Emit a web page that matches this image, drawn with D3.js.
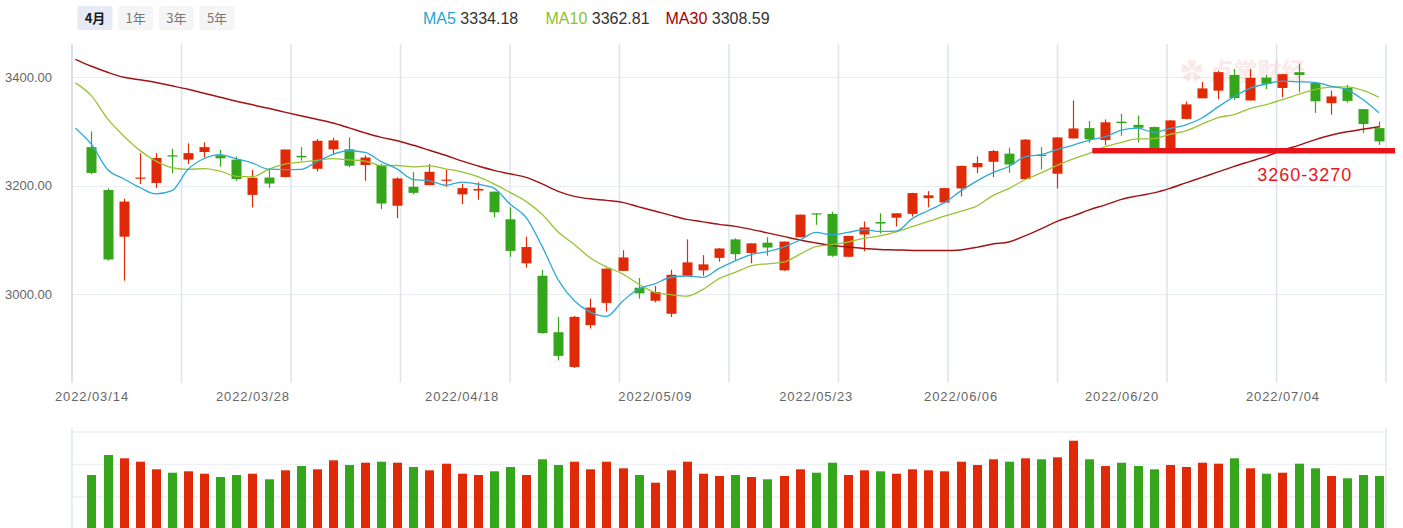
<!DOCTYPE html>
<html><head><meta charset="utf-8">
<script src="https://cdn.jsdelivr.net/npm/d3@7"></script>
<style>
html,body{margin:0;padding:0;background:#fff;}
svg{display:block;font-family:"Liberation Sans",Arial,"Noto Sans CJK SC",sans-serif;}
</style></head>
<body><svg id="c" width="1403" height="528"></svg>
<script>
// ---------- DATA ----------
const prevDate = '2022/03/11';
const dates = ['2022/03/14','2022/03/15','2022/03/16','2022/03/17','2022/03/18','2022/03/21','2022/03/22','2022/03/23','2022/03/24','2022/03/25',
'2022/03/28','2022/03/29','2022/03/30','2022/03/31','2022/04/01','2022/04/06','2022/04/07','2022/04/08','2022/04/11','2022/04/12',
'2022/04/13','2022/04/14','2022/04/15','2022/04/18','2022/04/19','2022/04/20','2022/04/21','2022/04/22','2022/04/25','2022/04/26',
'2022/04/27','2022/04/28','2022/04/29','2022/05/05','2022/05/06','2022/05/09','2022/05/10','2022/05/11','2022/05/12','2022/05/13',
'2022/05/16','2022/05/17','2022/05/18','2022/05/19','2022/05/20','2022/05/23','2022/05/24','2022/05/25','2022/05/26','2022/05/27',
'2022/05/30','2022/05/31','2022/06/01','2022/06/02','2022/06/06','2022/06/07','2022/06/08','2022/06/09','2022/06/10','2022/06/13',
'2022/06/14','2022/06/15','2022/06/16','2022/06/17','2022/06/20','2022/06/21','2022/06/22','2022/06/23','2022/06/24','2022/06/27',
'2022/06/28','2022/06/29','2022/06/30','2022/07/01','2022/07/04','2022/07/05','2022/07/06','2022/07/07','2022/07/08','2022/07/11',
'2022/07/12'];
const open = [3271,3192,3106,3213,3205,3256,3248,3262,3256,3248,
3183,3215,3216,3255,3231,3267,3267,3238,3238,3163,
3198,3201,3209,3184,3191,3189,3138,3057,3034,2930,
2866,2943,2984,3043,3012,2988,2964,3034,3044,3067,
3101,3076,3095,3044,3105,3149,3148,3069,3110,3133,
3141,3148,3177,3169,3195,3234,3244,3259,3212,3257,
3222,3287,3306,3284,3318,3312,3308,3265,3323,3361,
3375,3404,3357,3399,3380,3409,3389,3352,3380,3341,
3306];
const high = [3300,3195,3176,3260,3260,3268,3278,3280,3266,3254,
3229,3229,3266.6,3271,3286,3288,3289,3256,3240,3215,
3225,3240,3229,3203,3206,3189,3160,3106,3045,2958,
2960,2992,3048,3081,3030,3015,3045,3101,3072,3085,
3103,3094,3105,3097,3146.6,3149,3152,3107.5,3134,3149,
3149,3187,3190,3196,3237,3254,3266,3270,3286,3271,
3289,3357,3319,3322,3332,3329,3309,3321,3355,3391,
3412,3415,3415,3404,3406,3424.8,3390,3375,3386,3341,
3318];
const low = [3221,3062,3025,3203,3196,3223,3240,3252,3235,3209,
3160,3196,3215,3246,3226,3257,3234,3209,3157,3140,
3184,3201,3198,3166,3174,3142,3069,3049,2927,2878,
2864,2937,2968,3043,2992,2985,2958,3034,3034,3060,
3063,3057,3071,3043,3105,3128,3069,3069,3079,3112,
3125,3143,3160,3169,3180,3223,3216,3224,3212,3230,
3195,3287,3279,3275,3292,3280,3266,3260,3322,3361,
3359,3358,3357,3378,3363,3372,3334,3331,3353,3297,
3275];
const close = [3223.5,3064,3170.7,3215,3251,3253.7,3259.9,3271,3250.3,3212.2,
3214.5,3203.9,3266.6,3252.2,3282.7,3283.4,3236.7,3251.9,3167.1,3213.3,
3186.8,3225.6,3211.2,3195.5,3194,3151,3079.8,3086.9,2928.5,2886.4,
2958.3,2975.5,3047.1,3067.8,3001.6,3004.1,3035.8,3058.7,3055,3084.3,
3073.8,3093.7,3086,3097,3146.6,3146.9,3070.9,3107.5,3123.1,3130.2,
3149.1,3186.4,3182.2,3195.5,3236.4,3241.8,3263.8,3239,3284.8,3255.6,
3288.9,3305.4,3285.4,3316.8,3315.4,3306.7,3267.2,3320.2,3349.8,3379.2,
3409.2,3361.5,3398.6,3387.6,3405.4,3404,3355.4,3364.4,3356.1,3313.6,
3281.5];
const volume = [401.5,493.8,478.6,463,427.8,412.1,418.6,407.5,392.3,401.5,
407.5,381.7,423.2,443,427.8,469.3,447.7,458.3,463,458.3,
438.4,423.2,453.7,407.5,401.5,418.6,438.4,401.5,474,447.7,
463,427.8,463,432.4,401.5,366,423.2,463,407.5,396.9,
401.5,392.3,381.7,396.9,427.8,412.1,458.3,401.5,423.2,418.6,
407.5,427.8,423.2,418.6,463,447.7,474,463,478.6,474,
483.2,559.8,474,443,458.3,443,427.8,447.7,438.4,458.3,
453.7,478.6,432.4,407.5,412.1,453.7,432.4,396.9,386.3,401.5,
396.9];
// moving averages, first value is for prevDate
const ma5 = [3305.7,
3275.9,3229.9,3212.8,3196.6,3184.9,3190.9,3230.1,3250.1,3257.2,3249.4,
3241.6,3230.4,3229.5,3229.9,3244.0,3257.8,3264.3,3261.4,3244.4,3230.5,
3211.2,3209.0,3200.8,3206.5,3202.7,3195.5,3166.3,3141.5,3088.1,3026.5,
2988.0,2967.1,2959.2,2987.0,3010.0,3019.2,3031.3,3033.6,3031.0,3047.6,
3061.5,3073.1,3078.5,3086.9,3099.4,3114.0,3109.5,3113.8,3119.0,3115.7,
3116.2,3139.3,3154.2,3168.7,3189.9,3208.4,3223.9,3235.3,3253.1,3257.0,
3266.4,3274.7,3284.0,3290.4,3302.4,3305.9,3298.3,3305.3,3311.9,3324.6,
3345.1,3364.0,3379.7,3387.2,3392.5,3391.4,3390.2,3383.4,3377.1,3358.7,
3334.18];
const ma10 = [3389.3,
3365.4,3322.9,3291.6,3265.0,3245.3,3233.4,3230.0,3231.5,3226.9,3217.1,
3216.2,3230.2,3239.8,3243.5,3246.7,3249.7,3247.4,3245.4,3237.1,3237.2,
3234.5,3236.6,3231.1,3225.4,3216.6,3203.3,3187.6,3171.1,3147.3,3114.6,
3091.7,3066.7,3050.3,3037.5,3018.3,3003.6,2999.2,2996.4,3009.0,3028.8,
3040.4,3052.2,3056.1,3059.0,3073.5,3087.8,3091.3,3096.1,3103.0,3107.6,
3115.1,3124.4,3134.0,3143.8,3152.8,3162.3,3181.6,3194.7,3210.9,3223.4,
3237.4,3249.3,3259.6,3271.8,3279.7,3286.2,3286.5,3294.6,3301.1,3313.5,
3325.5,3331.1,3342.5,3349.5,3358.5,3368.3,3377.1,3381.5,3382.1,3375.6,
3362.81];
const ma30 = [3432.8,
3419.9,3408.8,3399.6,3395.0,3390.2,3384.0,3377.5,3370.1,3362.8,3355.4,
3348.9,3342.5,3335.5,3328.7,3322.2,3315.4,3306.5,3297.3,3289.0,3282.6,
3274.3,3265.1,3255.9,3245.7,3236.5,3228.2,3221.8,3215.3,3203.3,3189.5,
3180.3,3175.7,3172.9,3169.2,3160.9,3153.5,3145.3,3137.9,3133.3,3128.7,
3125.0,3119.5,3113.0,3106.6,3100.1,3094.6,3090.0,3087.2,3084.4,3082.6,
3081.7,3080.7,3080.4,3080.4,3081.7,3086.3,3092.7,3096.4,3107.5,3120.4,
3134.2,3144.3,3155.4,3164.6,3174.7,3181.2,3186.7,3195.0,3205.2,3215.3,
3225.4,3235.6,3244.8,3254.0,3265.1,3274.3,3284.4,3292.7,3299.2,3303.8,
3308.59];
const xTickLabels = ['2022/03/14','2022/03/28','2022/04/18','2022/05/09','2022/05/23','2022/06/06','2022/06/20','2022/07/04'];
const yTickValues = [3000, 3200, 3400];
const volGridValues = [0, 150, 300, 450, 600];
const periodButtons = ['4月','1年','3年','5年'];
const legendNames = ['MA5','MA10','MA30'];
const legendValues = ['3334.18','3362.81','3308.59'];
const supportLow = 3260, supportHigh = 3270;
const supportLabel = '3260-3270';

// ---------- LAYOUT ----------
const C = {up:'#e02a07', down:'#35a61b', ma5:'#2eaad6', ma10:'#98c434', ma30:'#a11414',
  lg5:'#1ea6d5', lg10:'#8cc22a', lg30:'#a30000', grid:'#e7edf3', vgrid:'#dfe5ee', axis:'#cfd8e4', text:'#666'};
const L = 72, R = 1386, T = 44, B = 382.7;
const svg = d3.select('#c');

const maDates = [prevDate].concat(dates);
const x = d3.scalePoint().domain(maDates).range([75.4, 1379]);
const y = d3.scaleLinear().domain([2837, 3461]).range([B, T]);
const yv = d3.scaleLinear().domain([0, 600]).range([562, 432]);
const gx = d3.scaleLinear().domain([0, 12]).range([L, R]);

// buttons
const bx = d3.scalePoint().domain(periodButtons).range([95, 217]);
const btn = svg.append('g');
periodButtons.forEach((b, i) => {
  btn.append('rect').attr('x', bx(b) - 17.5).attr('y', 6).attr('width', 35).attr('height', 24).attr('rx', 2)
    .attr('fill', i === 0 ? '#e6eaf5' : '#f5f5f6');
  btn.append('text').attr('x', bx(b)).attr('y', 22.5).attr('text-anchor', 'middle')
    .attr('font-size', 13).attr('font-family', '"Noto Sans CJK SC","Liberation Sans",sans-serif')
    .attr('font-weight', i === 0 ? 'bold' : 'normal')
    .attr('fill', i === 0 ? '#1a1a1a' : '#777').text(b);
});

// legend
const legX = [423, 545.5, 665.5];
const legCol = [C.lg5, C.lg10, C.lg30];
legendNames.forEach((n, i) => {
  const t = svg.append('text').attr('x', legX[i]).attr('y', 24).attr('font-size', 16);
  t.append('tspan').attr('fill', legCol[i]).text(n);
  t.append('tspan').attr('fill', '#333').text(' ' + legendValues[i]);
});

// grids
const g = svg.append('g');
g.selectAll('.hg').data(yTickValues).join('line')
  .attr('x1', L).attr('x2', R).attr('y1', d => Math.round(y(d)) + 0.5).attr('y2', d => Math.round(y(d)) + 0.5)
  .attr('stroke', C.grid).attr('stroke-width', 1);
g.selectAll('.vg').data(d3.range(1, 13)).join('line')
  .attr('x1', d => gx(d)).attr('x2', d => gx(d)).attr('y1', T).attr('y2', B)
  .attr('stroke', C.vgrid).attr('stroke-width', 1.6);
g.append('line').attr('x1', L).attr('x2', L).attr('y1', T).attr('y2', B).attr('stroke', C.axis).attr('stroke-width', 1.6);

// watermark
svg.append('text').attr('x', 1180).attr('y', 80).attr('font-size', 24)
  .attr('font-family', '"Noto Sans CJK SC",sans-serif').attr('font-weight', 'bold')
  .attr('fill', '#f2c2c2').attr('opacity', 0.35).text('✿ 点掌财经');

// y axis
const yAxis = svg.append('g').attr('transform', `translate(${L - 17},0)`)
  .call(d3.axisLeft(y).tickValues(yTickValues).tickFormat(d3.format('.2f')).tickSize(0));
yAxis.select('.domain').remove();
yAxis.selectAll('text').attr('font-size', 13).attr('fill', C.text).attr('font-family', '"Liberation Sans",Arial,sans-serif');

// x axis
const xAxis = svg.append('g').attr('transform', `translate(0,${B})`)
  .call(d3.axisBottom(x).tickValues(xTickLabels).tickSize(0).tickPadding(9));
xAxis.select('.domain').remove();
xAxis.selectAll('text').attr('font-size', 13).attr('fill', C.text).attr('letter-spacing', 0.9)
  .attr('font-family', '"Liberation Sans",Arial,sans-serif');

// candles
const candles = dates.map((d, i) => ({d, o: open[i], h: high[i], l: low[i], c: close[i], v: volume[i]}));
const col = k => (k.c >= k.o ? C.up : C.down);
const cg = svg.append('g');
cg.selectAll('.wick').data(candles).join('line')
  .attr('x1', k => Math.round(x(k.d)) + 0.5).attr('x2', k => Math.round(x(k.d)) + 0.5)
  .attr('y1', k => y(k.h)).attr('y2', k => y(k.l)).attr('stroke', col).attr('stroke-width', 1.2);
cg.selectAll('.body').data(candles).join('rect')
  .attr('x', k => Math.round(x(k.d)) - 4.5).attr('width', 10)
  .attr('y', k => y(Math.max(k.o, k.c)))
  .attr('height', k => Math.max(1.2, Math.abs(y(k.o) - y(k.c))))
  .attr('fill', col);

// MA lines
const ln = arr => d3.line().x((v, i) => x(maDates[i])).y(v => y(v)).curve(d3.curveMonotoneX)(arr);
[[ma30, C.ma30, 1.5], [ma10, C.ma10, 1.3], [ma5, C.ma5, 1.3]].forEach(([a, c, w]) => {
  svg.append('path').attr('d', ln(a)).attr('fill', 'none').attr('stroke', c).attr('stroke-width', w);
});

// support annotation
const supY = y((supportLow + supportHigh) / 2 - 0.5);
svg.append('line').attr('x1', x(dates[62]) + 3).attr('x2', x(dates[80]) + 16)
  .attr('y1', supY).attr('y2', supY).attr('stroke', '#e8141c').attr('stroke-width', 5.5);
svg.append('text').attr('x', x(dates[72]) + 7).attr('y', supY + 30).attr('font-size', 18).attr('letter-spacing', 1)
  .attr('fill', '#e8141c').text(supportLabel);

// volume panel
const vg = svg.append('g');
vg.selectAll('.vgl').data(volGridValues).join('line')
  .attr('x1', L).attr('x2', R).attr('y1', d => yv(d)).attr('y2', d => yv(d))
  .attr('stroke', '#edf1f5').attr('stroke-width', 1.6);
vg.append('line').attr('x1', L).attr('x2', L).attr('y1', 428).attr('y2', 528).attr('stroke', '#e2e8f0').attr('stroke-width', 1.6);
vg.append('line').attr('x1', R).attr('x2', R).attr('y1', 428).attr('y2', 528).attr('stroke', '#e2e8f0').attr('stroke-width', 1.6);
vg.selectAll('.vb').data(candles).join('rect')
  .attr('x', k => Math.round(x(k.d)) - 4).attr('width', 9)
  .attr('y', k => yv(k.v)).attr('height', k => yv(0) - yv(k.v))
  .attr('fill', col);
</script></body></html>
